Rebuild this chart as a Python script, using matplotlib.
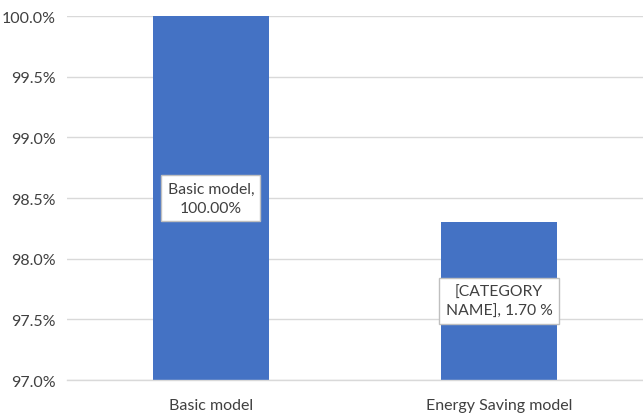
import matplotlib
matplotlib.use("Agg")
import matplotlib.pyplot as plt
from matplotlib.ticker import FuncFormatter, MultipleLocator

plt.rcParams['font.family'] = ['Lato', 'DejaVu Sans']

categories = ["Basic model", "Energy Saving model"]
saving_pct = [0.0, 1.70]
values = [100.0 - s for s in saving_pct]
bar_labels = ["Basic model,\n100.00%", "[CATEGORY\nNAME], 1.70 %"]

bar_color = "#4472C4"
text_color = "#404040"
grid_color = "#D9D9D9"

fig = plt.figure(figsize=(6.43, 4.14), dpi=100)
ax = fig.add_axes([0.104, 0.0797, 0.896, 0.879])

x = range(len(categories))
bars = ax.bar(x, values, width=0.4, color=bar_color, zorder=2, bottom=0)

ax.set_ylim(97.0, 100.0)
ax.set_xlim(-0.5, 1.5)
ax.yaxis.set_major_locator(MultipleLocator(0.5))
ax.yaxis.set_major_formatter(FuncFormatter(lambda v, p: f"{v:.1f}%"))
ax.grid(axis="y", color=grid_color, linewidth=1, zorder=0)
ax.set_axisbelow(True)

for side in ["left", "right", "top"]:
    ax.spines[side].set_visible(False)
ax.spines["bottom"].set_color(grid_color)
ax.spines["bottom"].set_linewidth(1)

ax.set_xticks(list(x))
ax.set_xticklabels(categories)
ax.tick_params(axis="both", length=0, labelsize=11.5, colors=text_color)
ax.tick_params(axis="y", pad=8)
ax.tick_params(axis="x", pad=13)

ymin = ax.get_ylim()[0]
for xi, v, lab in zip(x, values, bar_labels):
    ax.text(xi, (ymin + v) / 2, lab, ha="center", va="center",
            fontsize=11.3, color=text_color, linespacing=1.45, zorder=3,
            bbox=dict(boxstyle="square,pad=0.4", facecolor="white",
                      edgecolor="#BFBFBF", linewidth=1))

fig.savefig("out.png", dpi=100)
